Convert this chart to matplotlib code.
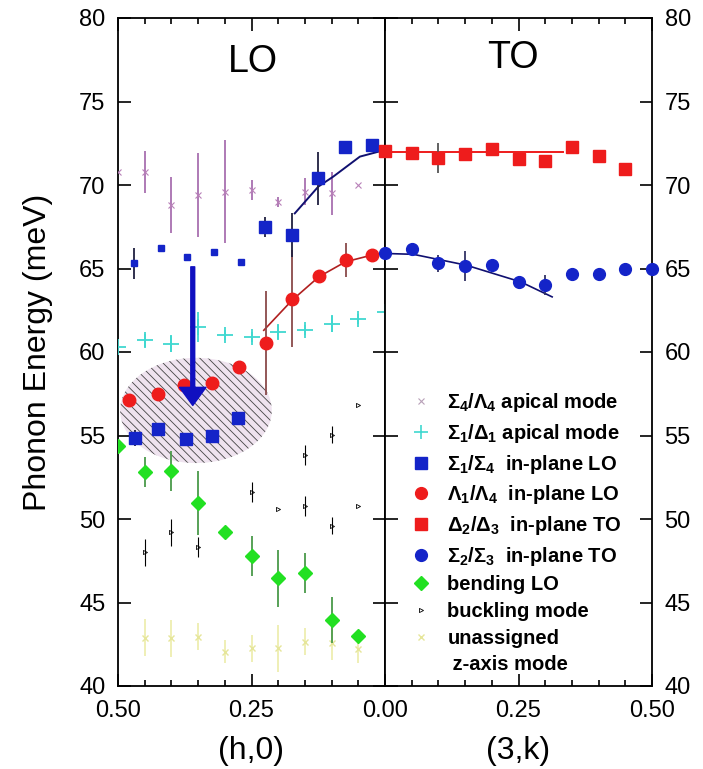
import matplotlib
matplotlib.use('Agg')
import matplotlib.pyplot as plt
from matplotlib.lines import Line2D
from matplotlib.patches import Ellipse
from matplotlib.ticker import MultipleLocator

plt.rcParams['font.family'] = ['Liberation Sans', 'DejaVu Sans']
plt.rcParams['mathtext.fontset'] = 'custom'
plt.rcParams['mathtext.rm'] = 'Liberation Sans'
plt.rcParams['hatch.linewidth'] = 0.6

# ---- LO side, (h,0) ----
apical4_h = [0.50, 0.45, 0.40, 0.35, 0.30, 0.25, 0.20, 0.15, 0.10, 0.05]
apical4_E = [70.8, 70.8, 68.8, 69.4, 69.6, 69.7, 69.0, 69.6, 69.5, 70.0]
apical4_err = [0.0, 1.25, 1.7, 2.5, 3.1, 0.6, 0.3, 0.8, 1.3, 0.0]

apical1_h = [0.50, 0.45, 0.40, 0.35, 0.30, 0.25, 0.20, 0.15, 0.10, 0.05, 0.00]
apical1_E = [60.3, 60.7, 60.5, 61.5, 61.0, 60.9, 61.2, 61.3, 61.7, 62.0, 62.4]
apical1_err = [0.0, 0.4, 0.5, 0.9, 0.3, 0.3, 0.4, 0.3, 0.5, 0.3, 0.3]

sq_lo_h = [0.225, 0.175, 0.125, 0.075, 0.025]
sq_lo_E = [67.5, 67.0, 70.4, 72.3, 72.4]
sq_lo_err = [0.6, 1.3, 1.6, 0.0, 0.0]

sq_lo_small_h = [0.47, 0.42, 0.37, 0.32, 0.27]
sq_lo_small_E = [65.3, 66.2, 65.7, 66.0, 65.4]
sq_lo_small_err = [0.9, 0.0, 0.0, 0.0, 0.0]

sq_lo_low_h = [0.468, 0.425, 0.373, 0.324, 0.275]
sq_lo_low_E = [54.85, 55.4, 54.8, 55.0, 56.05]
sq_lo_low_err = [0.5, 0.0, 0.0, 0.0, 0.0]

circ_lo_h = [0.48, 0.425, 0.376, 0.324, 0.273, 0.223, 0.174, 0.124, 0.073, 0.024]
circ_lo_E = [57.1, 57.5, 58.0, 58.15, 59.1, 60.55, 63.2, 64.55, 65.5, 65.8]
circ_lo_err = [0, 0, 0, 0, 0, 3.1, 2.9, 0.3, 1.0, 0]

bend_h = [0.50, 0.45, 0.40, 0.35, 0.30, 0.25, 0.20, 0.15, 0.10, 0.05]
bend_E = [54.4, 52.8, 52.9, 50.95, 49.2, 47.8, 46.45, 46.75, 43.95, 43.0]
bend_err = [0.0, 0.9, 1.2, 1.9, 0.0, 1.2, 1.7, 1.2, 1.4, 0.0]

buck_h = [0.45, 0.40, 0.35, 0.25, 0.20, 0.15, 0.15, 0.10, 0.10, 0.05, 0.05]
buck_E = [48.0, 49.2, 48.3, 51.6, 50.6, 53.85, 50.75, 55.05, 49.6, 56.8, 50.75]
buck_err = [0.8, 0.8, 0.6, 0.6, 0.0, 0.6, 0.6, 0.5, 0.5, 0.0, 0.0]

unas_h = [0.45, 0.40, 0.35, 0.30, 0.25, 0.20, 0.15, 0.10, 0.05]
unas_E = [42.9, 42.85, 42.95, 42.05, 42.25, 42.25, 42.65, 42.55, 42.2]
unas_err = [1.1, 1.1, 0.8, 0.7, 0.8, 1.4, 0.8, 1.0, 0.8]

# fit curves
fit_sq_lo_h = [0.169, 0.125, 0.097, 0.047, 0.0]
fit_sq_lo_E = [68.3, 69.9, 70.5, 71.7, 72.1]
fit_circ_lo_h = [0.227, 0.174, 0.124, 0.074, 0.025, 0.0]
fit_circ_lo_E = [61.3, 63.1, 64.5, 65.4, 65.8, 65.9]

# ---- TO side, (3,k) ----
sq_to_k = [0.00, 0.05, 0.10, 0.15, 0.20, 0.25, 0.30, 0.35, 0.40, 0.45]
sq_to_E = [72.05, 71.9, 71.6, 71.85, 72.15, 71.55, 71.45, 72.3, 71.75, 70.95]
sq_to_err = [0, 0, 0.9, 0.3, 0, 0, 0, 0, 0, 0]

circ_to_k = [0.00, 0.05, 0.10, 0.15, 0.20, 0.25, 0.30, 0.35, 0.40, 0.45, 0.50]
circ_to_E = [65.9, 66.15, 65.3, 65.15, 65.2, 64.2, 64.0, 64.7, 64.7, 64.95, 64.95]
circ_to_err = [0, 0, 0.5, 0.9, 0, 0, 0.6, 0, 0.3, 0, 0]

fit_sq_to_k = [0.0, 0.333]
fit_sq_to_E = [72.0, 72.0]
fit_circ_to_k = [0.0, 0.053, 0.152, 0.254, 0.313]
fit_circ_to_E = [65.9, 65.85, 65.2, 64.2, 63.3]

# shaded region + arrow (LO side)
blob_h, blob_E, blob_w, blob_hgt = 0.354, 56.5, 0.284, 6.3
arrow_h, arrow_E0, arrow_E1 = 0.36, 65.1, 56.8

BLUE = '#1424c8'
RED = '#ee1c1c'

fig = plt.figure(figsize=(7.03, 7.69), dpi=100)
axL = fig.add_axes([118 / 703, 83 / 769, 267 / 703, 668 / 769])
axR = fig.add_axes([385 / 703, 83 / 769, 267 / 703, 668 / 769])

axL.add_patch(Ellipse((blob_h, blob_E), blob_w, blob_hgt, facecolor='#efe3ef',
                      edgecolor='#444444', hatch='\\\\\\\\', lw=0, zorder=1))

eb = dict(capsize=0, linestyle='none', elinewidth=1.3)
axL.errorbar(apical4_h, apical4_E, yerr=apical4_err, fmt='x', ms=5, mew=0.8,
             color='#b880b8', ecolor='#a870b0', zorder=3, **eb)
axL.errorbar(apical1_h, apical1_E, yerr=apical1_err, fmt='+', ms=12, mew=1.3,
             color='#40d8d0', ecolor='#40d8d0', zorder=3, **eb)
axL.errorbar(unas_h, unas_E, yerr=unas_err, fmt='x', ms=5, mew=1,
             color='#e6e69a', ecolor='#eeeeb0', zorder=2, **eb)
axL.errorbar(buck_h, buck_E, yerr=buck_err, fmt='>', ms=3, mfc='none', mec='k',
             mew=0.6, ecolor='k', zorder=3, capsize=0, linestyle='none', elinewidth=0.8)
axL.errorbar(bend_h, bend_E, yerr=bend_err, fmt='D', ms=7.5, color='#22e022',
             ecolor='#4a9a4a', zorder=4, **eb)

axL.plot(fit_sq_lo_h, fit_sq_lo_E, color='#101070', lw=1.4, zorder=4)
axL.plot(fit_circ_lo_h, fit_circ_lo_E, color='#b02020', lw=1.2, zorder=4)

axL.errorbar(circ_lo_h, circ_lo_E, yerr=circ_lo_err, fmt='o', ms=9, color=RED,
             ecolor='#8a4a4a', zorder=5, **eb)
axL.errorbar(sq_lo_h, sq_lo_E, yerr=sq_lo_err, fmt='s', ms=9, color=BLUE,
             ecolor='#202040', zorder=5, **eb)
axL.errorbar(sq_lo_small_h, sq_lo_small_E, yerr=sq_lo_small_err, fmt='s', ms=5,
             color=BLUE, ecolor='#202040', zorder=5, **eb)
axL.errorbar(sq_lo_low_h, sq_lo_low_E, yerr=sq_lo_low_err, fmt='s', ms=8.5,
             color=BLUE, ecolor='#202040', zorder=5, **eb)

axL.annotate('', xy=(arrow_h, arrow_E1), xytext=(arrow_h, arrow_E0), zorder=6,
             arrowprops=dict(facecolor='#1010c0', edgecolor='#1010c0', width=2.8,
                             headwidth=19, headlength=13, shrink=0))

axR.plot(fit_sq_to_k, fit_sq_to_E, color=RED, lw=1.4, zorder=4)
axR.plot(fit_circ_to_k, fit_circ_to_E, color='#101070', lw=1.2, zorder=4)
axR.errorbar(sq_to_k, sq_to_E, yerr=sq_to_err, fmt='s', ms=8.5, color=RED,
             ecolor='#555555', zorder=5, clip_on=False, **eb)
axR.errorbar(circ_to_k, circ_to_E, yerr=circ_to_err, fmt='o', ms=8.5, color=BLUE,
             ecolor='#333366', zorder=5, clip_on=False, **eb)

# axes styling
for ax in (axL, axR):
    ax.set_ylim(40, 80)
    ax.yaxis.set_major_locator(MultipleLocator(5))
    ax.xaxis.set_minor_locator(MultipleLocator(0.05))
    ax.tick_params(which='both', direction='in', top=True, bottom=True,
                   left=True, right=True, width=1.2, labelsize=17)
    ax.tick_params(which='major', length=9)
    ax.tick_params(which='minor', length=4.5)
    ax.tick_params(axis='x', pad=10)
    ax.tick_params(axis='y', pad=9)
    for s in ax.spines.values():
        s.set_linewidth(1.3)

axL.set_xlim(0.5, 0)
axL.set_xticks([0.5, 0.25, 0.0])
axL.set_xticklabels(['0.50', '0.25', '0.00'])
axL.tick_params(labelleft=True, labelright=False)
axR.set_xlim(0, 0.5)
axR.set_xticks([0.0, 0.25, 0.5])
axR.set_xticklabels(['', '0.25', '0.50'])
axR.tick_params(labelleft=False, labelright=True)

axL.set_ylabel('Phonon Energy (meV)', fontsize=23, labelpad=19)
axL.set_xlabel('(h,0)', fontsize=23, labelpad=10)
axR.set_xlabel('(3,k)', fontsize=23, labelpad=10)

axL.text(0.506, 0.934, 'LO', transform=axL.transAxes, ha='center', va='center', fontsize=27)
axR.text(0.48, 0.94, 'TO', transform=axR.transAxes, ha='center', va='center', fontsize=27)

handles = [
    Line2D([], [], ls='none', marker='x', ms=5, mew=0.8, color='#b8a0b8'),
    Line2D([], [], ls='none', marker='+', ms=10, mew=1.2, color='#40d8d0'),
    Line2D([], [], ls='none', marker='s', ms=8, color=BLUE),
    Line2D([], [], ls='none', marker='o', ms=8.5, color=RED),
    Line2D([], [], ls='none', marker='s', ms=8, color=RED),
    Line2D([], [], ls='none', marker='o', ms=8.5, color=BLUE),
    Line2D([], [], ls='none', marker='D', ms=7.5, color='#22e022'),
    Line2D([], [], ls='none', marker='>', ms=3, mfc='none', mec='k', mew=0.6),
    Line2D([], [], ls='none', marker='x', ms=5, color='#e6e69a'),
    Line2D([], [], ls='none', marker=''),
]
labels = [
    r'$\mathregular{\Sigma_4/\Lambda_4}$ apical mode',
    r'$\mathregular{\Sigma_1/\Delta_1}$ apical mode',
    r'$\mathregular{\Sigma_1/\Sigma_4}$  in-plane LO',
    r'$\mathregular{\Lambda_1/\Lambda_4}$  in-plane LO',
    r'$\mathregular{\Delta_2/\Delta_3}$  in-plane TO',
    r'$\mathregular{\Sigma_2/\Sigma_3}$  in-plane TO',
    'bending LO',
    'buckling mode',
    'unassigned',
    ' z-axis mode',
]
axR.legend(handles, labels, loc='upper left', bbox_to_anchor=(0.06, 0.453),
           frameon=False, prop={'size': 14.5, 'weight': 'bold'}, labelspacing=0.38,
           handlelength=1.2, handletextpad=0.7, borderaxespad=0)

fig.savefig('out.png', dpi=100)
